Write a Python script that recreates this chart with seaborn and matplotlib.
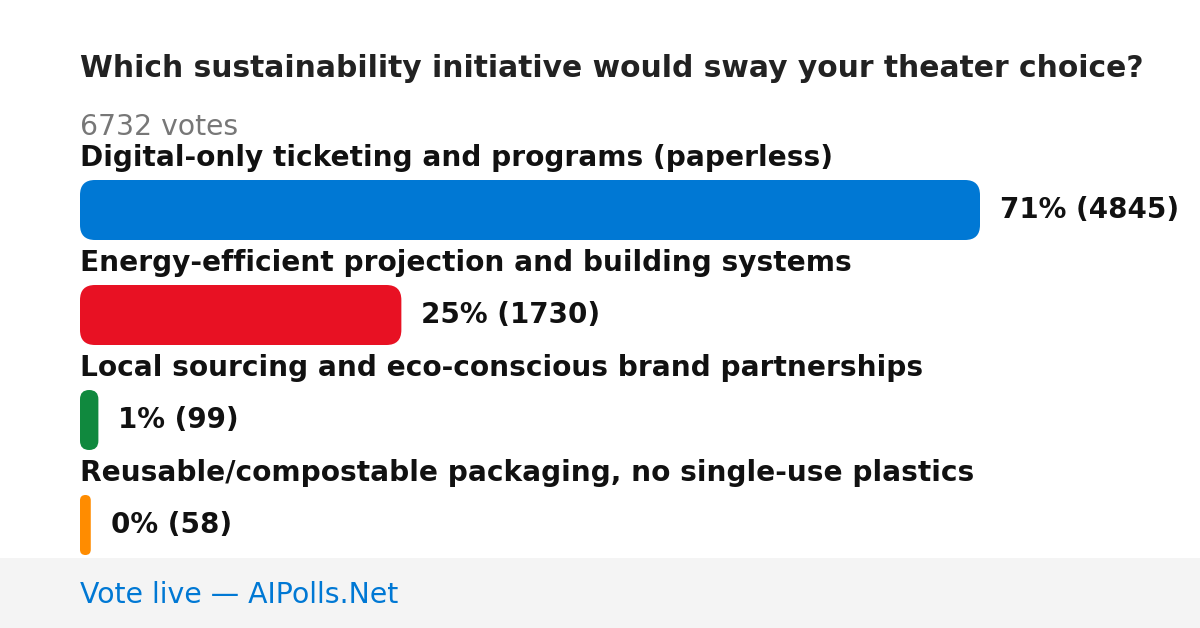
import matplotlib
matplotlib.use('Agg')

import matplotlib.pyplot as plt
from matplotlib.patches import FancyBboxPatch, Rectangle
import seaborn as sns

# ====== Data ======
title = "Which sustainability initiative would sway your theater choice?"
options = [
    "Digital-only ticketing and programs (paperless)",
    "Energy-efficient projection and building systems",
    "Local sourcing and eco-conscious brand partnerships",
    "Reusable/compostable packaging, no single-use plastics",
]
votes = [4845, 1730, 99, 58]
percents = [71, 25, 1, 0]
total_votes = 6732
colors = ["#0078D4", "#E81123", "#10893E", "#FF8C00"]
footer = "Vote live \u2014 AIPolls.Net"

# ====== Figure / layout (pixels) ======
W, H, DPI = 1200, 628, 100
left_px, right_px = 80, 980
pitch_px = 105
bar_px = 60
top_px = 210 - pitch_px / 2

sns.set_theme(style="white")
plt.rcParams['font.family'] = ['DejaVu Sans']

fig = plt.figure(figsize=(W / DPI, H / DPI), dpi=DPI)
fig.patch.set_facecolor("white")
ax_h = pitch_px * len(options)
ax = fig.add_axes([left_px / W, 1 - (top_px + ax_h) / H,
                   (right_px - left_px) / W, ax_h / H])

sns.barplot(x=votes, y=options, hue=options, palette=colors, orient="h",
            width=bar_px / pitch_px, legend=False, saturation=1, ax=ax)

xmax = max(votes)
ax.set_xlim(0, xmax)
ax.set_ylim(len(options) - 0.5, -0.5)
ax.axis("off")

# swap the square bars for rounded ones
a = xmax / (right_px - left_px)     # x units per pixel
b = 1 / pitch_px                    # y units per pixel
radius_px = 15
for p in list(ax.patches):
    x0, y0 = p.get_x(), p.get_y()
    w, h = p.get_width(), p.get_height()
    fc = p.get_facecolor()
    p.remove()
    r = min(radius_px, (w / a) / 2, (h / b) / 2) * a
    rp = FancyBboxPatch((x0, y0), w, h,
                        boxstyle=f"round,pad=0,rounding_size={r}",
                        mutation_aspect=b / a, facecolor=fc,
                        edgecolor="none", clip_on=False)
    ax.add_patch(rp)

for i, (opt, v, pc) in enumerate(zip(options, votes, percents)):
    ax.annotate(opt, (0, i), xytext=(0, 52), textcoords="offset pixels",
                ha="left", va="center", fontsize=20.2, fontweight="bold",
                color="#111111", annotation_clip=False)
    ax.annotate(f"{pc}% ({v})", (v, i), xytext=(20, 0),
                textcoords="offset pixels", ha="left", va="center",
                fontsize=20, fontweight="bold", color="#111111",
                annotation_clip=False)

fig.text(left_px / W, 1 - 68.5 / H, title, ha="left", va="center",
         fontsize=21.4, fontweight="bold", color="#222222")
fig.text(left_px / W, 1 - 127 / H, f"{total_votes} votes", ha="left",
         va="center", fontsize=20.3, color="#777777")

# footer band
fig.patches.append(Rectangle((0, 0), 1, 70 / H, transform=fig.transFigure,
                             facecolor="#f4f4f4", edgecolor="none", zorder=-1))
fig.text(left_px / W, 1 - 595 / H, footer, ha="left", va="center",
         fontsize=20.4, color="#0078D4")

fig.savefig("out.png", dpi=DPI)
